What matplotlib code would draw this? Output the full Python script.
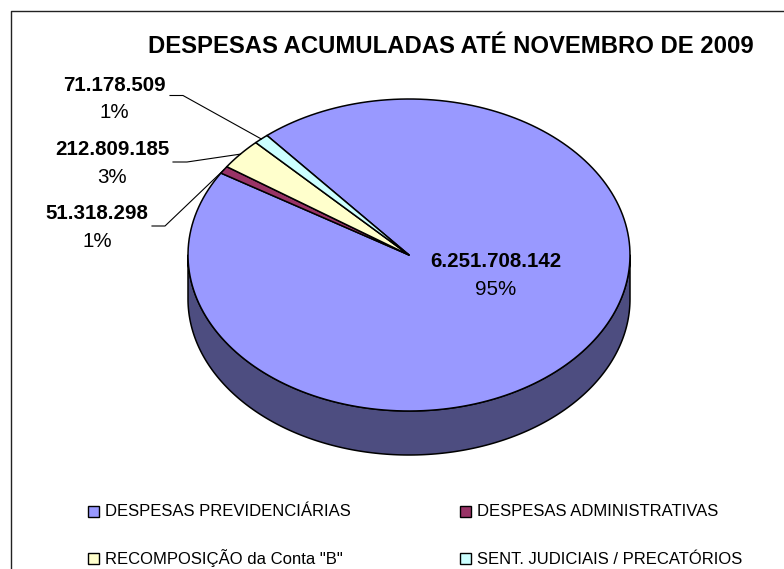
import numpy as np
import matplotlib
matplotlib.use("Agg")
import matplotlib.pyplot as plt
from matplotlib.patches import Polygon, Rectangle
from matplotlib.colors import to_rgb

plt.rcParams['font.family'] = ['Liberation Sans', 'DejaVu Sans']

# ---- data ----
title = "DESPESAS ACUMULADAS ATÉ NOVEMBRO DE 2009"
categories = ['DESPESAS PREVIDENCIÁRIAS', 'DESPESAS ADMINISTRATIVAS',
              'RECOMPOSIÇÃO da Conta "B"', 'SENT. JUDICIAIS / PRECATÓRIOS']
values = [6251708142, 51318298, 212809185, 71178509]
colors = ['#9999FF', '#993366', '#FFFFCC', '#CCFFFF']

W, H = 784, 569
fig = plt.figure(figsize=(W / 100, H / 100), dpi=100)
ax = fig.add_axes([0, 0, 1, 1])
ax.set_xlim(0, W)
ax.set_ylim(H, 0)
ax.axis('off')

# chart frame (left & top visible)
ax.plot([11, 11, W], [H, 11, 11], color='#222222', lw=1.0)

# pie geometry
cx, cy, rx, ry, depth = 409, 255, 221, 156, 44
start = 130.0

def pt(a, dz=0.0):
    t = np.radians(a)
    return cx + rx * np.cos(t), cy - ry * np.sin(t) + dz

def arc(a0, a1, dz=0.0, n=200):
    aa = np.linspace(a0, a1, n)
    x, y = pt(aa, dz)
    return np.column_stack([x, y])

total = float(sum(values))
angles = []
cur = start
for v in values:
    a1 = cur - 360.0 * v / total
    angles.append((cur, a1))
    cur = a1

# side walls (visible front half)
for (a0, a1), c in zip(angles, colors):
    side = tuple(0.5 * np.array(to_rgb(c)))
    for k in range(-2, 2):
        lo = max(a1, 180 + 360 * k)
        hi = min(a0, 360 + 360 * k)
        if lo < hi:
            top = arc(lo, hi)
            bot = arc(hi, lo, depth)
            ax.add_patch(Polygon(np.vstack([top, bot]), closed=True,
                                 facecolor=side, edgecolor='black', lw=1.1,
                                 joinstyle='round'))

# top faces
for (a0, a1), c in zip(angles, colors):
    verts = np.vstack([[cx, cy], arc(a0, a1)])
    ax.add_patch(Polygon(verts, closed=True, facecolor=c, edgecolor='black',
                         lw=1.1, joinstyle='round'))

# labels
def fmt(v):
    return f"{v:,}".replace(',', '.')

pcts = [f"{round(v / total * 100):.0f}%" for v in values]
label_pos = {0: (496, 266.5, 28), 1: (97, 219, 28), 2: (112, 155, 28), 3: (114.5, 91, 27)}
leader = {1: (152, 165, 226), 2: (173, 187, 162), 3: (170, 183, 95.5)}

for i, v in enumerate(values):
    x, yb, dy = label_pos[i]
    ax.text(x, yb, fmt(v), ha='center', va='baseline', fontsize=14.8,
            fontweight='bold', color='black')
    ax.text(x, yb + dy, pcts[i], ha='center', va='baseline', fontsize=14.8,
            color='black')
    if i in leader:
        x0, x1, yl = leader[i]
        a0, a1 = angles[i]
        px, py = pt((a0 + a1) / 2)
        ax.plot([x0, x1, px], [yl, yl, py], color='black', lw=0.8)

# title
ax.text(451, 53, title, ha='center', va='baseline', fontsize=17.2,
        fontweight='bold', color='black')

# legend
col_x = [88, 460]
row_y = [516.5, 564]
for i, (name, c) in enumerate(zip(categories, colors)):
    r, k = i // 2, i % 2
    mx, yb = col_x[k], row_y[r]
    ax.add_patch(Rectangle((mx, yb - 11), 11, 11, facecolor=c,
                           edgecolor='black', lw=1.0))
    ax.text(mx + 17, yb, name, ha='left', va='baseline', fontsize=12,
            color='black')

fig.savefig('out.png', dpi=100)
